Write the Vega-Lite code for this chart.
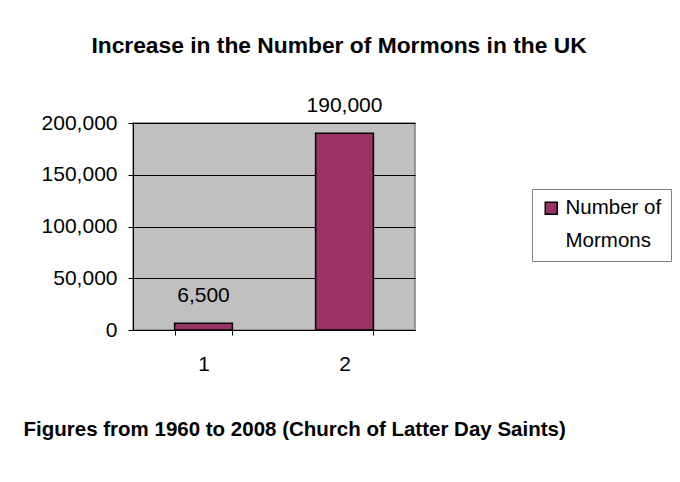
{
  "$schema": "https://vega.github.io/schema/vega-lite/v6.json",
  "width": 282,
  "height": 207,
  "autosize": {"type": "none"},
  "padding": {"left": 133, "top": 123, "right": 265, "bottom": 152},
  "background": "white",
  "title": {
    "text": "Increase in the Number of Mormons in the UK",
    "font": "Liberation Sans",
    "fontSize": 22.8,
    "fontWeight": "bold",
    "color": "black",
    "anchor": "middle",
    "frame": "group",
    "dx": 65,
    "offset": 38
  },
  "data": {
    "values": [
      {"cat": "1", "value": 6500, "series": "Number of Mormons"},
      {"cat": "2", "value": 190000, "series": "Number of Mormons"}
    ]
  },
  "encoding": {
    "x": {
      "field": "cat",
      "type": "nominal",
      "scale": {"paddingInner": 0.59, "paddingOuter": 0.295},
      "axis": {
        "title": "Figures from 1960 to 2008 (Church of Latter Day Saints)",
        "titleFont": "Liberation Sans",
        "titleFontSize": 20.5,
        "titleFontWeight": "bold",
        "titleColor": "black",
        "titleAnchor": "start",
        "titleAlign": "left",
        "titleBaseline": "alphabetic",
        "titleX": -110,
        "titleY": 105,
        "labelAngle": 0,
        "labelFont": "Liberation Sans",
        "labelFontSize": 21,
        "labelColor": "black",
        "labelPadding": 18,
        "tickBand": "extent",
        "tickSize": 5,
        "tickColor": "black",
        "domainColor": "black",
        "domainWidth": 1
      }
    },
    "y": {
      "field": "value",
      "type": "quantitative",
      "scale": {"domain": [0, 200000]},
      "axis": {
        "title": null,
        "values": [0, 50000, 100000, 150000, 200000],
        "format": ",d",
        "labelFont": "Liberation Sans",
        "labelFontSize": 21,
        "labelColor": "black",
        "labelPadding": 11,
        "tickSize": 5,
        "tickColor": "black",
        "domainColor": "black",
        "grid": true,
        "gridColor": "black",
        "gridWidth": 1
      }
    }
  },
  "layer": [
    {
      "mark": {"type": "bar", "stroke": "black", "strokeWidth": 1.5},
      "encoding": {
        "color": {
          "field": "series",
          "type": "nominal",
          "scale": {"range": ["#993366"]},
          "legend": {
            "title": null,
            "orient": "none",
            "legendX": 399,
            "legendY": 66,
            "padding": 9,
            "strokeColor": "#808080",
            "fillColor": "white",
            "symbolType": "square",
            "symbolSize": 144,
            "symbolStrokeColor": "black",
            "symbolStrokeWidth": 1.5,
            "symbolOpacity": 1,
            "labelFont": "Liberation Sans",
            "labelFontSize": 20.5,
            "labelColor": "black",
            "labelExpr": "['Number of', 'Mormons']",
            "labelOffset": 4,
            "labelLimit": 200
          }
        }
      }
    },
    {
      "mark": {
        "type": "text",
        "font": "Liberation Sans",
        "fontSize": 21,
        "color": "black",
        "baseline": "alphabetic",
        "dy": -21
      },
      "encoding": {
        "text": {"field": "value", "type": "quantitative", "format": ","}
      }
    }
  ],
  "config": {
    "view": {"fill": "#C0C0C0", "stroke": "#808080", "strokeWidth": 1.5},
    "style": {"guide-label": {"lineHeight": 33}}
  }
}
